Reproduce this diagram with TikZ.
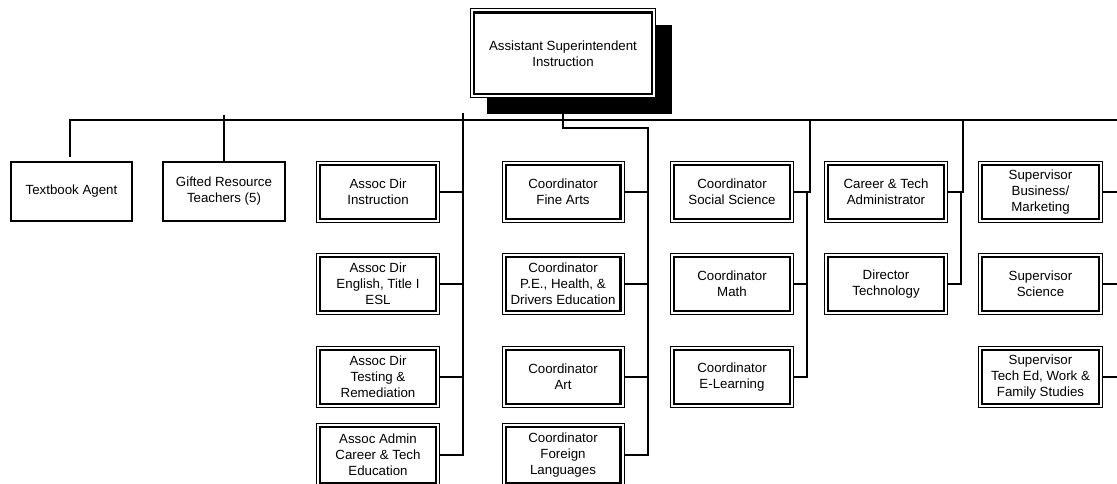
\documentclass[tikz,border=0pt]{standalone}
\usepackage{fontspec}
\setmainfont{Liberation Sans}
\usetikzlibrary{shadows}
\begin{document}
\begin{tikzpicture}[x=1pt,y=-1pt,
  txt/.style={font=\fontsize{13.3}{16}\selectfont, align=center, inner sep=0pt},
  % box with thin outer frame and thick inner frame
  dbox/.style={txt, draw, line width=1pt, fill=white,
    minimum width=123pt, minimum height=61pt,
    path picture={\draw[line width=2.4pt]
      ([shift={(3.7pt,3.7pt)}]path picture bounding box.south west) rectangle
      ([shift={(-3.7pt,-3.7pt)}]path picture bounding box.north east);}},
  % plain box with a single thick frame
  sbox/.style={txt, draw, line width=2.4pt, fill=white,
    minimum width=121pt, minimum height=59pt},
  conn/.style={line width=1.8pt}]
\useasboundingbox (0,0) rectangle (1117,484);
\clip (0,0) rectangle (1117,484);

% head of the chart, with its heavy shadow
\node[dbox, minimum width=185pt, minimum height=89pt,
      drop shadow={shadow xshift=16pt, shadow yshift=-16pt, fill=black, opacity=1}]
  (top) at (563,53.5) {Assistant Superintendent\\Instruction};

% stand-alone positions
\node[sbox] (tb) at (71.5,191.5) {Textbook Agent};
\node[sbox, minimum width=122pt] (gr) at (224,191.5) {Gifted Resource\\Teachers (5)};

% column A
\node[dbox] (a1) at (378,192) {Assoc Dir\\Instruction};
\node[dbox] (a2) at (378,284) {Assoc Dir\\English, Title I\\ESL};
\node[dbox] (a3) at (378,377) {Assoc Dir\\Testing \&\\Remediation};
\node[dbox, minimum height=64pt] (a4) at (378,455) {Assoc Admin\\Career \& Tech\\Education};

% column B
\node[dbox, minimum width=122pt] (b1) at (563,192) {Coordinator\\Fine Arts};
\node[dbox, minimum width=122pt] (b2) at (563,284) {Coordinator\\P.E., Health, \&\\Drivers Education};
\node[dbox, minimum width=122pt] (b3) at (563,377) {Coordinator\\Art};
\node[dbox, minimum width=122pt, minimum height=64pt] (b4) at (563,455) {Coordinator\\Foreign\\Languages};

% column C
\node[dbox] (c1) at (732,192) {Coordinator\\Social Science};
\node[dbox] (c2) at (732,284) {Coordinator\\Math};
\node[dbox] (c3) at (732,377) {Coordinator\\E-Learning};

% column D
\node[dbox] (d1) at (886,192) {Career \& Tech\\Administrator};
\node[dbox] (d2) at (886,284) {Director\\Technology};

% column E
\node[dbox, minimum width=124pt] (e1) at (1040.5,192) {Supervisor\\Business/\\Marketing};
\node[dbox, minimum width=124pt] (e2) at (1040.5,284) {Supervisor\\Science};
\node[dbox, minimum width=124pt] (e3) at (1040.5,377) {Supervisor\\Tech Ed, Work \&\\Family Studies};

% main bus and stems
\coordinate (tbstem) at (70,157);
\coordinate (hr) at (1130,120);
\draw[conn] (tbstem) |- (hr);
\coordinate (grstem) at (224,115);
\draw[conn] (grstem) -- (gr.north);

% column A links
\coordinate (astem) at (463,113);
\draw[conn] (astem) |- (a4.east);
\foreach \n in {a1,a2,a3} \draw[conn] (\n.east) -- (\n.east -| astem);

% column B links
\coordinate (bj) at (648,128);
\draw[conn] (top.south) |- (bj) |- (b4.east);
\foreach \n in {b1,b2,b3} \draw[conn] (\n.east) -- (\n.east -| bj);

% column C links
\coordinate (cstem) at (810,120);
\coordinate (cj) at (807,192);
\draw[conn] (cstem) |- (c1.east);
\draw[conn] (cj) |- (c3.east);
\draw[conn] (c2.east) -- (c2.east -| cj);

% column D links
\coordinate (dstem) at (963,120);
\coordinate (dj) at (961,192);
\draw[conn] (dstem) |- (d1.east);
\draw[conn] (dj) |- (d2.east);

% column E links
\coordinate (estem) at (1125,120);
\draw[conn] (estem) |- (e3.east);
\foreach \n in {e1,e2} \draw[conn] (\n.east) -- (\n.east -| estem);
\end{tikzpicture}
\end{document}
